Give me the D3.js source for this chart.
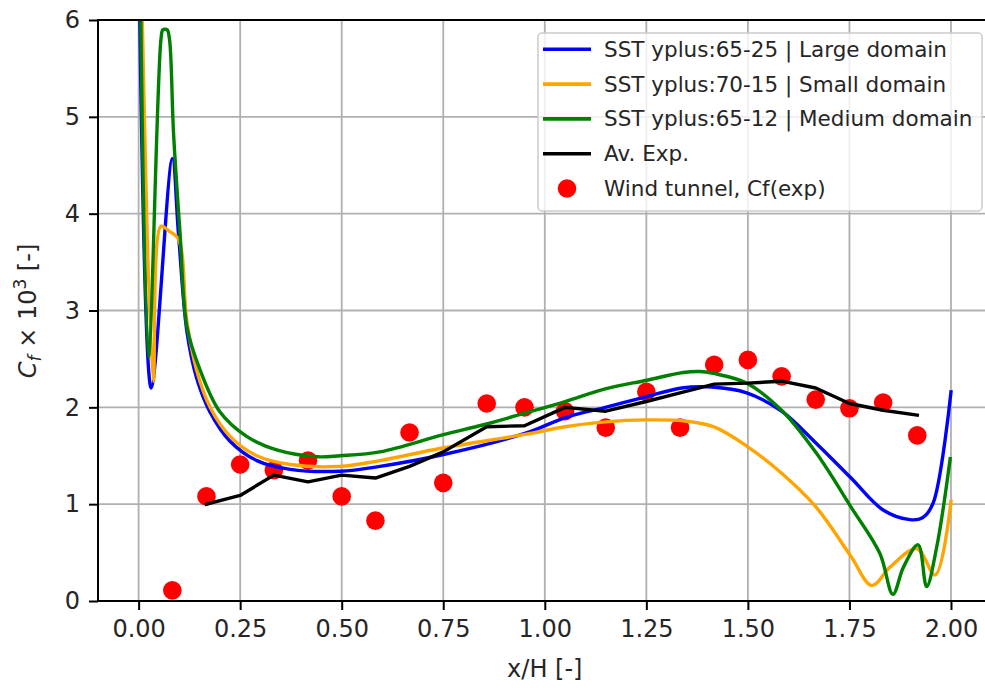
<!DOCTYPE html>
<html>
<head>
<meta charset="utf-8">
<script src="https://cdn.jsdelivr.net/npm/d3@7"></script>
<style>
 html,body{margin:0;padding:0;background:#fff;}
 svg{display:block;font-family:"DejaVu Sans",sans-serif;}
</style>
</head>
<body>
<svg id="chart" width="985" height="688"></svg>
<script>
// skin friction along x/H, three SST meshes against the wind tunnel.
const xticks=[0,0.25,0.5,0.75,1,1.25,1.5,1.75,2];
const yticks=[0,1,2,3,4,5,6];
const names=["SST yplus:65-25 | Large domain","SST yplus:70-15 | Small domain","SST yplus:65-12 | Medium domain","Av. Exp.","Wind tunnel, Cf(exp)"];
const colors=["#0000ff","#ffa500","#008000","#000000","#ff0000"];

// [x/H, Cf*1e3]
const large=[[0,7],[0.031,2.2],[0.083,4.57],[0.098,3.8],[0.119,2.78],[0.143,2.3],[0.176,1.95],[0.225,1.65],[0.291,1.45],
 [0.373,1.36],[0.496,1.34],[0.594,1.39],[0.748,1.51],[0.951,1.73],[1.054,1.9],[1.149,2.0],[1.251,2.11],[1.337,2.2],
 [1.411,2.21],[1.497,2.15],[1.583,1.96],[1.668,1.63],[1.754,1.27],[1.833,0.94],[1.899,0.84],[1.93,0.86],[1.956,1.01],[2.0,2.16]];
const small=[[0,8],[0.036,2.27],[0.055,3.87],[0.075,3.82],[0.098,3.74],[0.119,2.88],[0.143,2.38],[0.176,2.0],[0.225,1.7],
 [0.291,1.5],[0.373,1.41],[0.496,1.39],[0.594,1.45],[0.748,1.58],[0.951,1.72],[1.05,1.8],[1.149,1.85],[1.251,1.87],
 [1.341,1.86],[1.415,1.8],[1.497,1.6],[1.583,1.32],[1.668,0.97],[1.754,0.46],[1.805,0.16],[1.85,0.35],[1.916,0.54],
 [1.961,0.27],[2.0,1.03]];
const medium=[[0,8],[0.024,2.52],[0.055,5.8],[0.06,5.9],[0.07,5.9],[0.076,5.8],[0.086,4.83],[0.102,3.8],[0.119,2.83],
 [0.151,2.39],[0.2,1.955],[0.266,1.7],[0.34,1.56],[0.439,1.49],[0.496,1.5],[0.594,1.54],[0.748,1.715],[0.849,1.82],
 [0.951,1.94],[1.05,2.06],[1.149,2.19],[1.251,2.28],[1.341,2.36],[1.382,2.37],[1.415,2.35],[1.497,2.25],[1.583,1.97],
 [1.668,1.53],[1.754,0.97],[1.825,0.49],[1.857,0.07],[1.883,0.35],[1.919,0.58],[1.94,0.15],[1.965,0.56],[1.998,1.47]];
const average=[[0.167,1.0],[0.25,1.09],[0.333,1.3],[0.417,1.23],[0.5,1.3],[0.583,1.27],[0.667,1.39],[0.75,1.54],
 [0.857,1.8],[0.95,1.81],[1.05,2.0],[1.15,1.96],[1.25,2.06],[1.333,2.15],[1.417,2.24],[1.5,2.25],[1.583,2.27],
 [1.667,2.2],[1.75,2.04],[1.833,1.97],[1.917,1.92]];
const tunnel=[[0.083,0.11],[0.167,1.08],[0.25,1.41],[0.333,1.35],[0.417,1.45],[0.5,1.08],[0.583,0.83],[0.667,1.74],
 [0.75,1.22],[0.857,2.04],[0.95,2.0],[1.05,1.96],[1.15,1.79],[1.25,2.16],[1.333,1.79],[1.417,2.44],[1.5,2.49],
 [1.583,2.32],[1.667,2.08],[1.75,1.99],[1.833,2.05],[1.917,1.71]];

// simulations are smooth, the averaged measurement is joined point to point
const lines=[large,small,medium,average].map((values,i)=>({name:names[i],color:colors[i],values,smooth:i<3}));

const svg=d3.select("#chart");
const x=d3.scaleLinear().domain([-0.1,2.1]).range([98,991.6]);
const y=d3.scaleLinear().domain([0,6]).range([601,20]);
const [xmin,xmax]=x.range(),[ymax,ymin]=y.range();

svg.append("defs").append("clipPath").attr("id","plot")
 .append("rect").attr("x",xmin).attr("y",ymin).attr("width",xmax-xmin).attr("height",ymax-ymin);

// grid
svg.append("g").selectAll("line").data(xticks).join("line")
 .attr("x1",d=>x(d)).attr("x2",d=>x(d)).attr("y1",ymin).attr("y2",ymax)
 .attr("stroke","#b0b0b0").attr("stroke-width",1.8);
svg.append("g").selectAll("line").data(yticks).join("line")
 .attr("x1",xmin).attr("x2",xmax).attr("y1",d=>y(d)).attr("y2",d=>y(d))
 .attr("stroke","#b0b0b0").attr("stroke-width",1.8);

const plot=svg.append("g").attr("clip-path","url(#plot)");

// scatter sits under the lines (matplotlib zorder)
plot.append("g").selectAll("circle").data(tunnel).join("circle")
 .attr("cx",d=>x(d[0])).attr("cy",d=>y(d[1])).attr("r",9.3).attr("fill",colors[4]);

const smooth=d3.line().x(d=>x(d[0])).y(d=>y(d[1])).curve(d3.curveCatmullRom.alpha(0.5));
const straight=d3.line().x(d=>x(d[0])).y(d=>y(d[1]));
plot.selectAll("path.series").data(lines).join("path").attr("class","series")
 .attr("d",d=>(d.smooth?smooth:straight)(d.values)).attr("fill","none").attr("stroke",d=>d.color)
 .attr("stroke-width",3.4).attr("stroke-linejoin","round").attr("stroke-linecap","square");

// axes
const xaxis=svg.append("g").attr("transform",`translate(0,${ymax})`)
 .call(d3.axisBottom(x).tickValues(xticks).tickFormat(d3.format(".2f")).tickSizeOuter(0).tickSize(9).tickPadding(8));
const yaxis=svg.append("g").attr("transform",`translate(${xmin},0)`)
 .call(d3.axisLeft(y).tickValues(yticks).tickFormat(d3.format("d")).tickSizeOuter(0).tickSize(9).tickPadding(9));
[xaxis,yaxis].forEach(g=>{
 g.select(".domain").remove();
 g.selectAll(".tick line").attr("stroke","#000").attr("stroke-width",2);
 g.selectAll(".tick text").attr("font-size",24).attr("font-family","DejaVu Sans").attr("fill","#262626");
});
xaxis.selectAll(".tick text").attr("dy","0.78em");

// spines
svg.append("rect").attr("x",xmin).attr("y",ymin).attr("width",xmax-xmin).attr("height",ymax-ymin)
 .attr("fill","none").attr("stroke","#000").attr("stroke-width",2);

// labels
svg.append("text").attr("x",(xmin+xmax)/2).attr("y",677).attr("text-anchor","middle")
 .attr("font-size",24).attr("fill","#262626").text("x/H [-]");
const ylabel=svg.append("text").attr("transform","translate(36,311) rotate(-90)").attr("text-anchor","middle")
 .attr("font-size",24).attr("fill","#262626");
ylabel.append("tspan").attr("font-style","italic").text("C");
ylabel.append("tspan").attr("font-style","italic").attr("font-size",17).attr("dy",5).text("f");
ylabel.append("tspan").attr("dy",-5).text(" \u00d7 10");
ylabel.append("tspan").attr("font-size",17).attr("dy",-10).text("3");
ylabel.append("tspan").attr("dy",10).text(" [-]");

// legend
const legend=svg.append("g").attr("transform","translate(538,33)");
legend.append("rect").attr("width",444).attr("height",178).attr("rx",4)
 .attr("fill","#fff").attr("fill-opacity",0.8).attr("stroke","#cccccc").attr("stroke-width",1.5);
const rows=legend.selectAll("g").data(names).join("g").attr("transform",(d,i)=>`translate(0,${16.3+i*34.8})`);
rows.filter((d,i)=>i<4).append("line").attr("x1",5).attr("x2",53)
 .attr("stroke",(d,i)=>colors[i]).attr("stroke-width",3.6);
rows.filter((d,i)=>i==4).append("circle").attr("cx",29).attr("r",9.3).attr("fill",colors[4]);
rows.append("text").attr("x",66).attr("dy","0.35em").attr("font-size",21.5).attr("fill","#262626").text(d=>d);
</script>
</body>
</html>
